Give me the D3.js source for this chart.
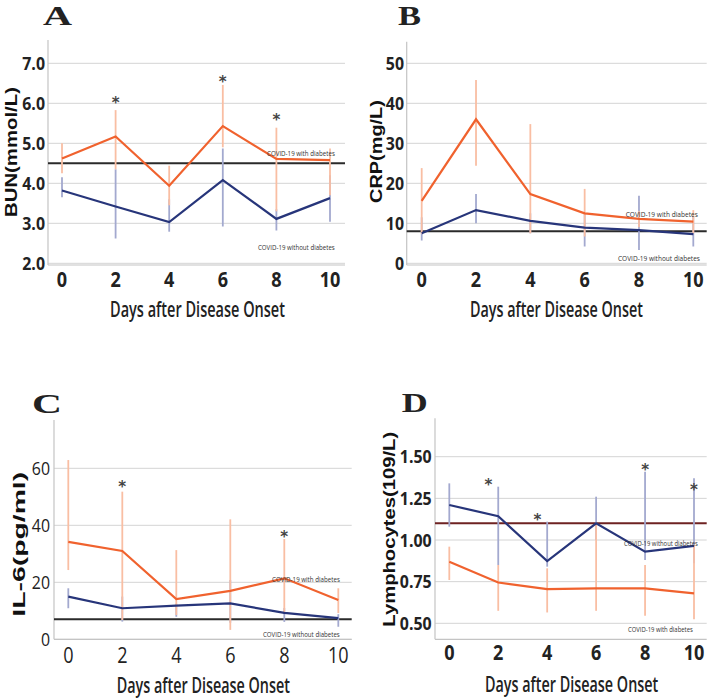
<!DOCTYPE html>
<html><head><meta charset="utf-8">
<script src="https://cdn.jsdelivr.net/npm/d3@7"></script>
<style>
body{margin:0;background:#fff;}
svg{display:block;}
.tick-lab{font-family:"Open Sans",sans-serif;font-weight:bold;fill:#222;}
.tick-lab.light{font-weight:normal;}
.ytitle{font-family:"Liberation Sans","Arial",sans-serif;font-weight:bold;fill:#111;}
.xtitle{font-family:"Open Sans",sans-serif;font-weight:600;fill:#222;}
.leg{font-family:"Open Sans",sans-serif;fill:#333;}
.letter{font-family:"Liberation Serif","DejaVu Serif",serif;font-weight:bold;fill:#222;}
.star{font-family:"DejaVu Sans",sans-serif;font-weight:bold;fill:#444;}
</style>
</head><body>
<svg id="chart" width="711" height="699"></svg>
<script>
// ---------- data ----------
const days = [0, 2, 4, 6, 8, 10];
const xTickLabels = ["0", "2", "4", "6", "8", "10"];

// Panel A: BUN (mmol/L)
const bunWith      = [4.62, 5.17, 3.94, 5.43, 4.61, 4.58];
const bunWithHi    = [5.00, 5.83, 4.44, 6.46, 5.39, 4.87];
const bunWithLo    = [4.25, 4.35, 3.45, 4.90, 3.30, 3.70];
const bunWithout   = [3.82, 3.42, 3.03, 4.08, 3.11, 3.63];
const bunWithoutHi = [4.15, 4.35, 3.60, 4.87, 3.35, 4.20];
const bunWithoutLo = [3.65, 2.62, 2.79, 2.92, 2.82, 3.04];
const bunRef = 4.5;
const bunTicks = [2, 3, 4, 5, 6, 7];
const bunTickLabels = ["2.0", "3.0", "4.0", "5.0", "6.0", "7.0"];
const bunStars = [[2, 6.08], [6, 6.62], [8, 5.67]];

// Panel B: CRP (mg/L)
const crpWith      = [15.6, 36.0, 17.3, 12.5, 11.1, 10.4];
const crpWithHi    = [23.8, 45.8, 34.8, 18.6, 13.0, 13.3];
const crpWithLo    = [7.4, 24.4, 7.5, 6.7, 9.0, 7.5];
const crpWithout   = [7.5, 13.3, 10.6, 8.9, 8.3, 7.3];
const crpWithoutHi = [11.5, 17.3, 12.5, 12.5, 16.9, 11.7];
const crpWithoutLo = [5.7, 10.0, 7.5, 4.2, 3.3, 4.2];
const crpRef = 8;
const crpTicks = [0, 10, 20, 30, 40, 50];
const crpTickLabels = ["0", "10", "20", "30", "40", "50"];
const crpStars = [];

// Panel C: IL-6 (pg/ml)
const il6With      = [34.2, 31.0, 14.1, 17.0, 21.4, 13.8];
const il6WithHi    = [62.9, 51.8, 31.3, 42.1, 35.2, 17.9];
const il6WithLo    = [24.3, 6.8, 8.5, 3.3, 9.5, 9.2];
const il6Without   = [15.0, 10.9, 11.8, 12.6, 9.3, 7.4];
const il6WithoutHi = [17.9, 15.0, 12.5, 20.8, 11.0, 8.8];
const il6WithoutLo = [10.9, 6.2, 7.9, 5.8, 6.1, 4.4];
const il6Ref = 7;
const il6Ticks = [0, 20, 40, 60];
const il6TickLabels = ["0", "20", "40", "60"];
const il6Stars = [[2, 54.7], [8, 37.2]];

// Panel D: Lymphocytes (109/L)
const lymWith      = [0.87, 0.745, 0.705, 0.71, 0.71, 0.68];
const lymWithHi    = [0.96, 0.85, 0.83, 1.10, 0.85, 0.97];
const lymWithLo    = [0.76, 0.575, 0.565, 0.575, 0.545, 0.525];
const lymWithout   = [1.21, 1.143, 0.873, 1.10, 0.93, 0.965];
const lymWithoutHi = [1.34, 1.32, 1.11, 1.26, 1.41, 1.37];
const lymWithoutLo = [1.08, 0.85, 0.84, 1.00, 0.88, 0.86];
const lymRef = 1.10;
const lymTicks = [0.5, 0.75, 1.0, 1.25, 1.5];
const lymTickLabels = ["0.50", "0.75", "1.00", "1.25", "1.50"];
const lymStars = [[1.6, 1.35], [3.6, 1.14], [8, 1.44], [10, 1.32]];

const legendWith = "COVID-19 with diabetes";
const legendWithout = "COVID-19 without diabetes";
const xTitle = "Days after Disease Onset";

// ---------- styling / layout ----------
const C_OR = "#f0622e", C_OR_BAR = "#f9bea3";
const C_BL = "#27357a", C_BL_BAR = "#a3a9cf";
const C_GRID = "#d4d4d4", C_AXIS = "#c4c4c4";

const panels = [
  { letter: "A", lx: 43, lw: 29, lb: 25,
    yTitle: "BUN(mmol/L)", ytX: 17, ytY0: 87, ytY1: 217,
    axisX: 48, right: 345, top: 40, bottom: 265, x0: 62, x10: 330,
    yDom: [2, 7], yRange: [263.3, 63.3], tickRight: 45, xLabBase: 287, light: false,
    xtX0: 110, xtX1: 285, xtBase: 317,
    w: bunWith, wHi: bunWithHi, wLo: bunWithLo, o: bunWithout, oHi: bunWithoutHi, oLo: bunWithoutLo,
    ref: bunRef, refColor: "#2a2a2a", ticks: bunTicks, tickLabels: bunTickLabels, stars: bunStars,
    legW: [267, 335, 155.5], legO: [258, 335, 250] },
  { letter: "B", lx: 398, lw: 23, lb: 25,
    yTitle: "CRP(mg/L)", ytX: 382, ytY0: 100, ytY1: 203,
    axisX: 406.7, right: 706.7, top: 41.7, bottom: 265, x0: 421.7, x10: 693.3,
    yDom: [0, 50], yRange: [263.3, 63.3], tickRight: 404, xLabBase: 287, light: false,
    xtX0: 470, xtX1: 643, xtBase: 316.7,
    w: crpWith, wHi: crpWithHi, wLo: crpWithLo, o: crpWithout, oHi: crpWithoutHi, oLo: crpWithoutLo,
    ref: crpRef, refColor: "#2a2a2a", ticks: crpTicks, tickLabels: crpTickLabels, stars: crpStars,
    legW: [625.7, 698, 217], legO: [618, 700, 260.5] },
  { letter: "C", lx: 32, lw: 30, lb: 413,
    yTitle: "IL-6(pg/ml)", ytX: 25, ytY0: 471.7, ytY1: 616.7,
    axisX: 54, right: 351.7, top: 420, bottom: 639.3, x0: 68.3, x10: 338.3,
    yDom: [0, 60], yRange: [639.3, 468.3], tickRight: 50, xLabBase: 662.5, light: true,
    xtX0: 116.7, xtX1: 290, xtBase: 692.7,
    w: il6With, wHi: il6WithHi, wLo: il6WithLo, o: il6Without, oHi: il6WithoutHi, oLo: il6WithoutLo,
    ref: il6Ref, refColor: "#2a2a2a", ticks: il6Ticks, tickLabels: il6TickLabels, stars: il6Stars,
    legW: [272, 340, 582], legO: [263, 340, 636.5] },
  { letter: "D", lx: 401.7, lw: 26, lb: 411.7,
    yTitle: "Lymphocytes(109/L)", ytX: 395, ytY0: 431.7, ytY1: 626.7,
    axisX: 435, right: 706.7, top: 418.3, bottom: 639.3, x0: 449.3, x10: 694,
    yDom: [0.5, 1.5], yRange: [623.3, 456.7], tickRight: 431.7, xLabBase: 660, light: false,
    xtX0: 485, xtX1: 658.3, xtBase: 691.7,
    w: lymWith, wHi: lymWithHi, wLo: lymWithLo, o: lymWithout, oHi: lymWithoutHi, oLo: lymWithoutLo,
    ref: lymRef, refColor: "#6e2222", ticks: lymTicks, tickLabels: lymTickLabels, stars: lymStars,
    legW: [628, 693, 632], legO: [624, 698, 546] }
];

const svg = d3.select("#chart");

// place text so that its natural width is scaled to span [x0, x1]
function fitText(parent, str, cls, size, x0, x1, base, rot) {
  const t = parent.append("text").attr("class", cls).attr("font-size", size)
    .attr("x", 0).attr("y", 0).text(str);
  const len = t.node().getComputedTextLength();
  const sx = (x1 - x0) / len;
  if (rot) t.attr("transform", `translate(${base},${x1}) rotate(-90) scale(${sx},1)`);
  else t.attr("transform", `translate(${x0},${base}) scale(${sx},1)`);
  return t;
}

panels.forEach(p => {
  const g = svg.append("g");
  const x = d3.scaleLinear().domain([0, 10]).range([p.x0, p.x10]);
  const y = d3.scaleLinear().domain(p.yDom).range(p.yRange);

  // gridlines
  g.selectAll("line.grid").data(p.ticks).join("line")
    .attr("x1", p.axisX).attr("x2", p.right)
    .attr("y1", d => y(d)).attr("y2", d => y(d))
    .attr("stroke", C_GRID).attr("stroke-width", 1);

  // axes lines
  g.append("line").attr("x1", p.axisX).attr("x2", p.axisX).attr("y1", p.top).attr("y2", p.bottom)
    .attr("stroke", C_AXIS).attr("stroke-width", 1.2);
  g.append("line").attr("x1", p.axisX).attr("x2", p.right).attr("y1", p.bottom).attr("y2", p.bottom)
    .attr("stroke", C_AXIS).attr("stroke-width", 1.2);

  // y tick labels
  g.selectAll("text.yt").data(p.ticks).join("text")
    .attr("class", "tick-lab" + (p.light ? " light" : ""))
    .attr("transform", d => `translate(${p.tickRight},${y(d)}) scale(0.86,1)`)
    .attr("dy", "0.36em")
    .attr("text-anchor", "end").attr("font-size", 18.5)
    .text((d, i) => p.tickLabels[i]);

  // x tick labels
  g.selectAll("text.xt").data(days).join("text")
    .attr("class", "tick-lab" + (p.light ? " light" : ""))
    .attr("transform", d => `translate(${x(d)},${p.xLabBase}) scale(0.86,1)`)
    .attr("text-anchor", "middle").attr("font-size", 21)
    .text((d, i) => xTickLabels[i]);

  // x title
  fitText(g, xTitle, "xtitle", 21, p.xtX0, p.xtX1, p.xtBase, false);

  // y title
  fitText(g, p.yTitle, "ytitle", 16.5, p.ytY0, p.ytY1, p.ytX, true);

  // panel letter
  fitText(g, p.letter, "letter", 27, p.lx, p.lx + p.lw, p.lb, false);

  // reference line
  g.append("line").attr("x1", p.axisX).attr("x2", p.right)
    .attr("y1", y(p.ref)).attr("y2", y(p.ref))
    .attr("stroke", p.refColor).attr("stroke-width", 2);

  // error bars: without (blue) then with (orange)
  g.selectAll("line.eb-o").data(days).join("line")
    .attr("x1", d => x(d)).attr("x2", d => x(d))
    .attr("y1", (d, i) => y(p.oHi[i])).attr("y2", (d, i) => y(p.oLo[i]))
    .attr("stroke", C_BL_BAR).attr("stroke-width", 1.8);
  g.selectAll("line.eb-w").data(days).join("line")
    .attr("x1", d => x(d)).attr("x2", d => x(d))
    .attr("y1", (d, i) => y(p.wHi[i])).attr("y2", (d, i) => y(p.wLo[i]))
    .attr("stroke", C_OR_BAR).attr("stroke-width", 1.8);

  const line = d3.line().x((d, i) => x(days[i])).y(d => y(d));
  g.append("path").datum(p.o).attr("d", line)
    .attr("fill", "none").attr("stroke", C_BL).attr("stroke-width", 2.2);
  g.append("path").datum(p.w).attr("d", line)
    .attr("fill", "none").attr("stroke", C_OR).attr("stroke-width", 2.2);

  // legend labels
  fitText(g, legendWith, "leg", 8, p.legW[0], p.legW[1], p.legW[2], false);
  fitText(g, legendWithout, "leg", 8, p.legO[0], p.legO[1], p.legO[2], false);

  // significance stars
  g.selectAll("text.star").data(p.stars).join("text")
    .attr("class", "star")
    .attr("x", d => x(d[0])).attr("y", d => y(d[1])).attr("dy", "0.55em")
    .attr("text-anchor", "middle").attr("font-size", 15)
    .text("*");
});
</script>
</body></html>
